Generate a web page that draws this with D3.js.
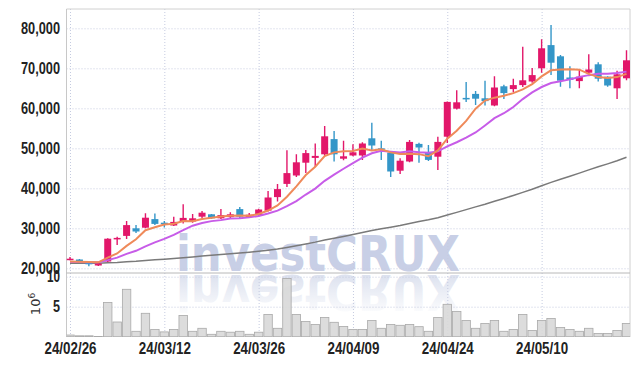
<!DOCTYPE html>
<html><head><meta charset="utf-8">
<script src="https://cdn.jsdelivr.net/npm/d3@7"></script>
<style>body{margin:0;background:#fff;} svg{display:block;}</style>
</head><body>
<svg id="chart" width="639" height="366"></svg>
<script>
const dates = ["24/02/26","24/02/27","24/02/28","24/02/29","24/03/04","24/03/05","24/03/06","24/03/07","24/03/08","24/03/11",
"24/03/12","24/03/13","24/03/14","24/03/15","24/03/18","24/03/19","24/03/20","24/03/21","24/03/22","24/03/25",
"24/03/26","24/03/27","24/03/28","24/03/29","24/04/01","24/04/02","24/04/03","24/04/04","24/04/05","24/04/08",
"24/04/09","24/04/11","24/04/12","24/04/15","24/04/16","24/04/17","24/04/18","24/04/19","24/04/22","24/04/23",
"24/04/24","24/04/25","24/04/26","24/04/29","24/04/30","24/05/02","24/05/03","24/05/07","24/05/08","24/05/09",
"24/05/10","24/05/13","24/05/14","24/05/16","24/05/17","24/05/20","24/05/21","24/05/22","24/05/23","24/05/24"];
const openP = [22400,22200,21600,20700,21700,27400,28100,30000,30150,32300,
31400,30700,31600,31700,32900,33500,32500,32800,34800,32800,
33300,34400,37800,41100,43200,46400,47600,48500,52300,47400,
48200,48200,52500,50000,48900,44400,46700,51100,48900,47900,
52900,59900,62600,63600,62500,60700,65500,64800,65800,66700,
70000,75800,73000,67700,66800,68900,71000,67900,65000,67500];
const highP = [22800,22300,21700,21300,27500,27900,31800,30800,33750,33700,
31800,32900,36000,33600,34300,33600,34800,34000,35300,33800,
34900,39300,41100,49500,48500,49600,51200,55600,54300,51900,
51000,51500,56400,51900,49000,47500,52100,51400,50800,52900,
61700,64500,66600,64300,66900,68000,65900,67400,75400,70100,
77250,80800,73300,70500,69800,73500,71500,68000,69400,74500];
const lowP = [22000,21300,20500,20600,21600,25800,27300,28800,30000,30800,
30200,30600,31200,31400,32500,32400,32300,32400,32600,32600,
33100,34200,36700,40300,42800,43800,45300,48100,46700,47000,
48000,47100,49600,47100,42800,43600,46500,46400,46800,44600,
51300,59700,61600,60800,60700,60500,62300,64000,65300,66400,
68900,68300,65400,65000,65000,68500,66700,65400,62300,67000];
const closeP = [22400,21400,21000,21200,27400,27600,30800,29200,32650,31100,
31100,31600,32600,32500,33900,32500,33300,33500,32900,33400,
34700,37700,39800,43800,46500,48800,48100,53000,48500,48000,
49000,51200,50700,49800,44200,46900,51600,50200,47100,51600,
61600,61500,62400,62400,61800,65200,63800,65800,67000,68300,
75000,71400,66900,67100,67900,69700,67400,65700,68500,72000];
// volume in millions of shares
const volume = [0.28,0.15,0.15,0.05,5.7,2.45,7.9,0.9,3.9,1.2,
0.8,1.2,3.55,0.9,1.4,0.4,0.9,0.75,0.9,0.4,
0.75,3.7,1.4,9.7,3.7,2.55,2.05,3.2,2.4,1.7,
1.2,1.2,2.7,1.4,2.05,1.9,2.05,1.67,0.9,3.2,
5.4,4.2,2.7,1.4,2.2,2.7,0.9,1.2,3.7,1.05,
2.7,3.05,1.55,1.2,0.9,1.4,0.55,0.55,1.05,2.2];
const ma5 = [21680,21660,21560,21500,22680,23720,25600,27240,29530,30270,
30970,31130,31810,31780,32340,32620,32960,33140,33220,33120,
33560,34440,35700,37880,40500,43320,45400,48040,48980,49280,
49320,49940,49480,49740,48980,48560,48640,48540,48000,49480,
52420,54400,56840,59900,61940,62660,63120,63800,64720,66020,
67980,69500,69720,69740,69660,68600,67800,67560,67800,68620];
const ma10 = [21600,21570,21530,21500,22050,22670,23600,24370,25480,26475,
27345,28365,29525,30655,31305,31795,32045,32475,32500,32730,
33090,33700,34420,35550,36810,38440,39920,41870,43430,44890,
46320,47670,48760,49360,49130,48940,49290,49010,48870,49230,
50490,51520,52690,53950,55710,57540,58760,60320,62310,63980,
65320,66310,66760,67230,67840,68290,68650,68640,68800,69170];
const ma60 = [21269,21272,21268,21267,21369,21475,21634,21767,21957,22121,
22285,22458,22647,22834,23045,23233,23433,23638,23832,24034,
24258,24533,24842,25218,25638,26098,26545,27074,27528,27974,
28437,28936,29427,29903,30285,30713,31218,31701,32132,32638,
33310,33981,34667,35353,36028,36761,37470,38213,38975,39759,
40655,41491,42252,43016,43793,44601,45370,46111,46898,47744];
const priceTicks = [20000,30000,40000,50000,60000,70000,80000];
const volumeTicks = [5,10];
const dateTicks = ["24/02/26","24/03/12","24/03/26","24/04/09","24/04/24","24/05/10"];

const L=66.5, R=630, T=9, SEP=273, B=337;
const svg = d3.select("#chart");
const x = d3.scalePoint().domain(dates).range([L,R]).padding(0.371);
const y = d3.scaleLinear().domain([20000,80000]).range([268.3,28.3]);
const yv = d3.scaleLinear().domain([0,10]).range([336.7,276.7]);
const step = x.step();

const UP="#e2176a", DOWN="#3496c8";
const labelFont = "'Liberation Sans',Arial,sans-serif";

const defs = svg.append("defs");
defs.append("clipPath").attr("id","cp").append("rect").attr("x",L).attr("y",T).attr("width",R-L).attr("height",SEP-T);
defs.append("clipPath").attr("id","cv").append("rect").attr("x",L).attr("y",SEP).attr("width",R-L).attr("height",B-SEP);
const grad = defs.append("linearGradient").attr("id","fade").attr("x1",0).attr("y1",0).attr("x2",0).attr("y2",1);
grad.append("stop").attr("offset","0").attr("stop-color","#fff").attr("stop-opacity",0);
grad.append("stop").attr("offset","1").attr("stop-color","#fff").attr("stop-opacity",1);

// watermark
const wm = svg.append("g");
wm.append("text").attr("x",176).attr("y",SEP-2).attr("textLength",284).attr("lengthAdjust","spacingAndGlyphs")
  .attr("font-family","'DejaVu Sans',sans-serif").attr("font-weight","bold").attr("font-size",50)
  .attr("fill","#c8cfe6").text("investCRUX");
wm.append("text").attr("x",176).attr("y",-(SEP+2)).attr("transform","scale(1,-1)")
  .attr("textLength",284).attr("lengthAdjust","spacingAndGlyphs")
  .attr("font-family","'DejaVu Sans',sans-serif").attr("font-weight","bold").attr("font-size",50)
  .attr("fill","#c8cfe6").attr("opacity",0.6).text("investCRUX");
wm.append("rect").attr("x",170).attr("y",SEP+2).attr("width",300).attr("height",42).attr("fill","url(#fade)");

// grid
const gridColor="#c5cbe0";
const gy = svg.append("g").attr("transform",`translate(${L},0)`)
  .call(d3.axisLeft(y).tickValues(priceTicks).tickSize(-(R-L)).tickFormat(""));
gy.select(".domain").remove();
gy.selectAll("line").attr("stroke",gridColor).attr("stroke-dasharray","1,2");
const gv = svg.append("g").attr("transform",`translate(${L},0)`)
  .call(d3.axisLeft(yv).tickValues(volumeTicks).tickSize(-(R-L)).tickFormat(""));
gv.select(".domain").remove();
gv.selectAll("line").attr("stroke",gridColor).attr("stroke-dasharray","1,2");
const gx = svg.append("g").attr("transform",`translate(0,${T})`)
  .call(d3.axisBottom(x).tickValues(dateTicks).tickSize(B-T).tickFormat(""));
gx.select(".domain").remove();
gx.selectAll("line").attr("stroke",gridColor).attr("stroke-dasharray","1,2");

// frame
svg.append("line").attr("x1",L).attr("x2",R).attr("y1",T).attr("y2",T).attr("stroke","#d0d0d0");
svg.append("line").attr("x1",R).attr("x2",R).attr("y1",T).attr("y2",B).attr("stroke","#d0d0d0");
svg.append("line").attr("x1",L).attr("x2",L).attr("y1",T).attr("y2",B).attr("stroke","#c8c8c8");
svg.append("line").attr("x1",L).attr("x2",R).attr("y1",SEP).attr("y2",SEP).attr("stroke","#b8b8b8");

// volume bars
svg.append("g").attr("clip-path","url(#cv)").selectAll("rect").data(dates).join("rect")
  .attr("x",d=>x(d)-step/2+0.5).attr("width",step-1)
  .attr("y",(d,i)=>yv(volume[i])).attr("height",(d,i)=>yv(0)-yv(volume[i]))
  .attr("fill","#d8d8d8").attr("fill-opacity",0.9).attr("stroke","#a9a9a9").attr("stroke-width",0.8);

// MA lines
const pg = svg.append("g").attr("clip-path","url(#cp)");
const line = arr => d3.line().x(d=>x(d)).y((d,i)=>y(arr[i]))(dates);
pg.append("path").attr("d",line(ma60)).attr("fill","none").attr("stroke","#7a7a7a").attr("stroke-width",1.5);

// candles
const cg = pg.append("g");
const c = cg.selectAll("g").data(dates).join("g");
c.append("line").attr("x1",d=>x(d)).attr("x2",d=>x(d))
  .attr("y1",(d,i)=>y(highP[i])).attr("y2",(d,i)=>y(lowP[i]))
  .attr("stroke",(d,i)=>closeP[i]>=openP[i]?UP:DOWN).attr("stroke-width",1.4);
c.append("rect").attr("x",d=>x(d)-3.5).attr("width",7)
  .attr("y",(d,i)=>y(Math.max(openP[i],closeP[i])))
  .attr("height",(d,i)=>Math.max(1.5,Math.abs(y(openP[i])-y(closeP[i]))))
  .attr("fill",(d,i)=>closeP[i]>=openP[i]?UP:DOWN);

pg.append("path").attr("d",line(ma10)).attr("fill","none").attr("stroke","#c75ce8").attr("stroke-width",2);
pg.append("path").attr("d",line(ma5)).attr("fill","none").attr("stroke","#ef8a5a").attr("stroke-width",2);

// axes labels
const styleText = (sel, lenFn) => sel.selectAll("text")
  .attr("font-family",labelFont).attr("font-weight","bold").attr("font-size",16).attr("fill","#222")
  .attr("lengthAdjust","spacingAndGlyphs").attr("textLength",lenFn);
const ay = svg.append("g").attr("transform",`translate(${L},0)`)
  .call(d3.axisLeft(y).tickValues(priceTicks).tickSize(0).tickPadding(6.5).tickFormat(d3.format(",")));
ay.select(".domain").remove();
styleText(ay, 39);
const av = svg.append("g").attr("transform",`translate(${L},0)`)
  .call(d3.axisLeft(yv).tickValues(volumeTicks).tickSize(0).tickPadding(6.5).tickFormat(d3.format("d")));
av.select(".domain").remove();
styleText(av, d=>d>=10?13:7);
const ax = svg.append("g").attr("transform",`translate(0,${B})`)
  .call(d3.axisBottom(x).tickValues(dateTicks).tickSize(0).tickPadding(5.5));
ax.select(".domain").remove();
styleText(ax, 52);

const unit = svg.append("text").attr("transform","translate(40,304) rotate(-90)")
  .attr("text-anchor","middle").attr("font-family","'DejaVu Sans',sans-serif").attr("font-size",13).attr("fill","#333");
unit.append("tspan").text("10");
unit.append("tspan").attr("dy",-5).attr("font-size",9).text("6");
</script>
</body></html>
